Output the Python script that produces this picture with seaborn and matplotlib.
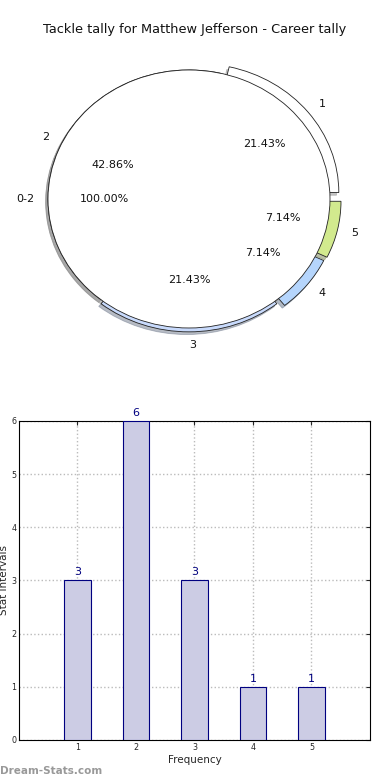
import matplotlib
matplotlib.use("Agg")
import matplotlib.pyplot as plt
import seaborn as sns
import numpy as np

# ---- data ----
title = "Tackle tally for Matthew Jefferson - Career tally"
ring_labels = ["1", "2", "3", "4", "5"]
ring_values = [3, 6, 3, 1, 1]
ring_colors = ["#ffffff", "#ffffff", "#c8dafc", "#b5d5fc", "#d2ea8e"]
ring_explode = [0.08, 0.0, 0.03, 0.07, 0.08]
inner_labels = ["0-2"]
inner_values = [14]
bar_x = [1, 2, 3, 4, 5]
bar_counts = [3, 6, 3, 1, 1]
x_label = "Frequency"
y_label = "Stat intervals"
watermark = "Dream-Stats.com"

sns.set_style("white")
plt.rcParams["font.family"] = ["DejaVu Sans"]

fig = plt.figure(figsize=(3.9, 7.8), dpi=100)

shadow_kw = {"ox": -0.012, "oy": -0.015, "shade": 0.45}

# ---- pie ----
axp = fig.add_axes([0.0146, 0.5299, 0.94, 0.43])
wedges, texts, autotexts = axp.pie(
    ring_values, labels=ring_labels, colors=ring_colors, explode=ring_explode,
    startangle=0, autopct="%.2f%%", pctdistance=0.6, labeldistance=1.1,
    shadow=shadow_kw, radius=1.0,
    wedgeprops=dict(edgecolor="#222222", linewidth=0.6),
    textprops=dict(fontsize=8, color="#111111"))
w2, t2, a2 = axp.pie(
    inner_values, labels=inner_labels, colors=["#ffffff"], startangle=0,
    autopct="%.2f%%", pctdistance=0.6, labeldistance=1.1, shadow=shadow_kw,
    radius=1.0, wedgeprops=dict(edgecolor="#222222", linewidth=0.6),
    textprops=dict(fontsize=8, color="#111111"))
for t in list(texts) + list(autotexts):
    t.set_zorder(10)
axp.set_xlim(-1.3, 1.3)
axp.set_ylim(-1.3, 1.3)
axp.set_aspect("auto")
fig.text(0.5, 0.962, title, ha="center", va="center", fontsize=9.3, color="#111111")

# ---- bars ----
axb = fig.add_axes([0.0487, 0.0513, 0.9, 0.409])
sns.barplot(x=bar_x, y=bar_counts, native_scale=True, width=0.45,
            color="#ccccE4", saturation=1, edgecolor="#000080",
            linewidth=0.8, ax=axb, zorder=3)
axb.set_xlim(0, 6)
axb.set_ylim(0, 6)
axb.set_xticks(bar_x)
axb.set_yticks(range(0, 7))
axb.tick_params(labelsize=5.8, direction="in", length=3, top=True, right=True,
                pad=2)
axb.grid(True, linestyle=":", color="#bbbbbb", linewidth=1.0, zorder=0)
axb.set_axisbelow(True)
for s in axb.spines.values():
    s.set_color("black")
    s.set_linewidth(0.8)
for xv, cv in zip(bar_x, bar_counts):
    axb.text(xv, cv + 0.06, str(cv), ha="center", va="bottom", fontsize=8,
             color="#000080")
axb.set_xlabel(x_label, fontsize=7.5, labelpad=2)
axb.set_ylabel(y_label, fontsize=7.5, labelpad=1)
axb.yaxis.set_label_coords(-0.028, 0.5)

fig.text(0.0, 0.012, watermark, ha="left", va="center", fontsize=7.5,
         color="#999999", fontweight="bold")

fig.savefig("out.png", dpi=100)
